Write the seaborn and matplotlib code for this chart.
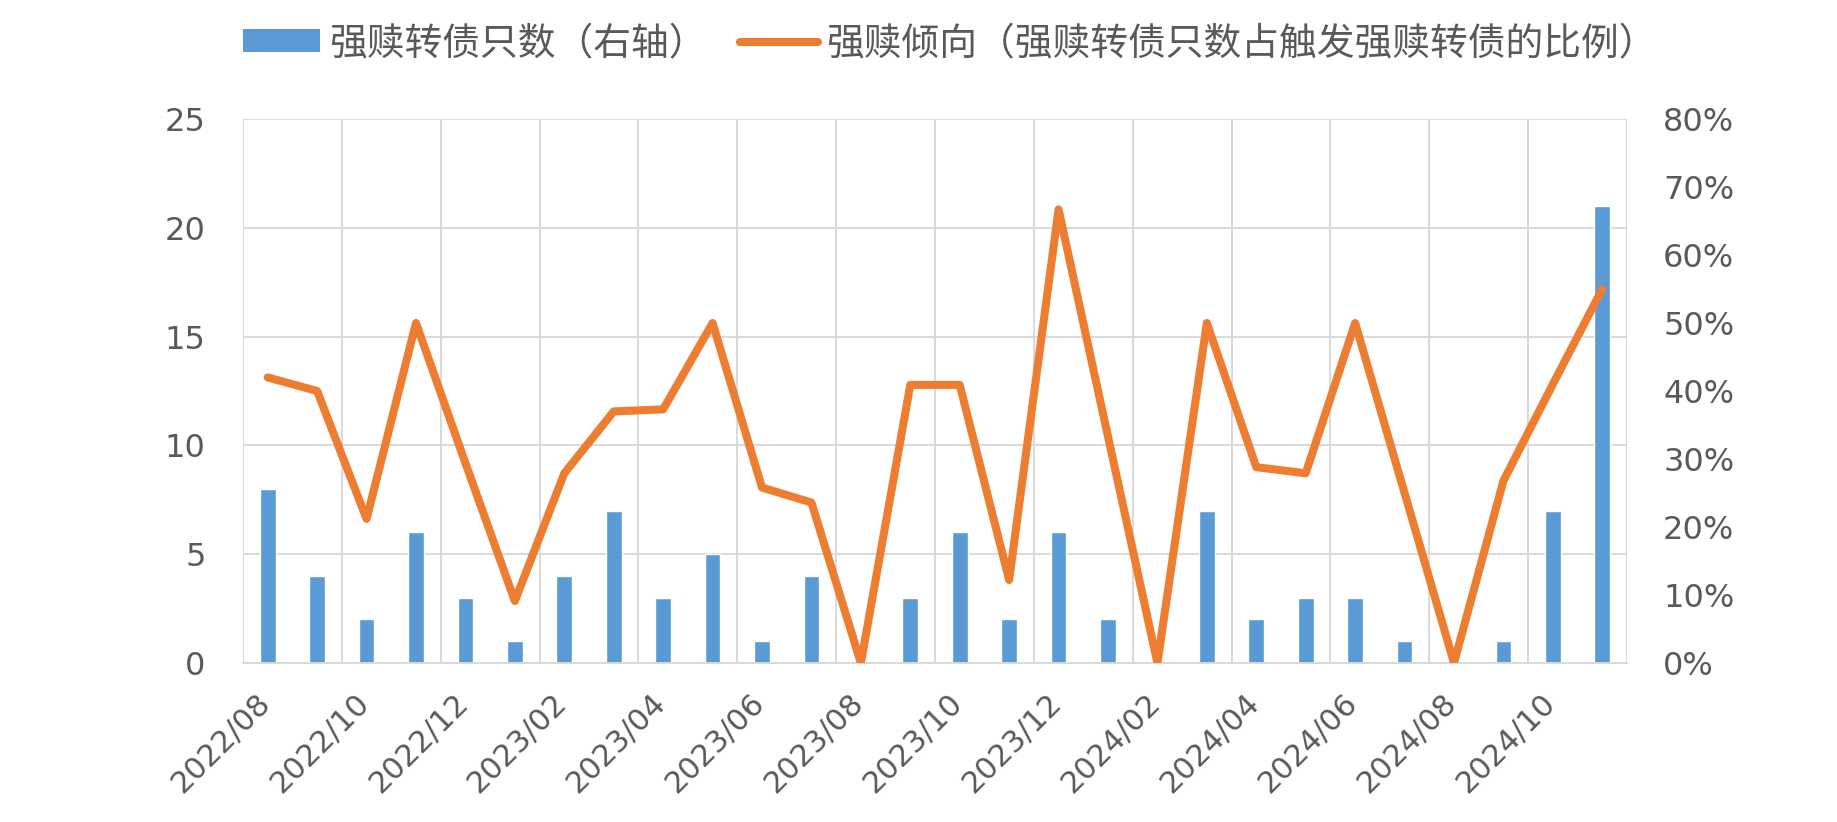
import numpy as np
import pandas as pd
import seaborn as sns
import matplotlib.pyplot as plt
from matplotlib.patches import Patch
from matplotlib.lines import Line2D
from matplotlib.ticker import PercentFormatter
from matplotlib.transforms import ScaledTranslation

# 强赎转债只数 与 强赎倾向, 2022/08 - 2024/11

months = ['2022/08', '2022/09', '2022/10', '2022/11', '2022/12',
          '2023/01', '2023/02', '2023/03', '2023/04', '2023/05', '2023/06',
          '2023/07', '2023/08', '2023/09', '2023/10', '2023/11', '2023/12',
          '2024/01', '2024/02', '2024/03', '2024/04', '2024/05', '2024/06',
          '2024/07', '2024/08', '2024/09', '2024/10', '2024/11']
counts = [8, 4, 2, 6, 3, 1, 4, 7, 3, 5, 1, 4, 0, 3, 6, 2, 6, 2, 0, 7,
          2, 3, 3, 1, 0, 1, 7, 21]
ratio = [42.0, 40.0, 21.2, 50.0, 29.4, 9.1, 27.9, 37.0, 37.3, 50.0, 25.8,
         23.6, 0.0, 40.9, 40.9, 12.2, 66.7, 33.3, 0.0, 50.0, 28.8, 27.9,
         50.0, 25.0, 0.0, 26.8, 41.0, 55.0]
tick_labels = months[::2]

bar_label = '强赎转债只数（右轴）'
line_label = '强赎倾向（强赎转债只数占触发强赎转债的比例）'

blue = '#5B9BD5'
orange = '#ED7D31'
grid_c = '#D9D9D9'
text_c = '#595959'

sns.set_style('white')
plt.rcParams['font.family'] = ['DejaVu Sans', 'Noto Sans CJK SC']

df = pd.DataFrame({'month': months, 'count': counts, 'ratio': ratio})
df['pos'] = np.arange(len(df))

fig = plt.figure(figsize=(18.37, 8.22), dpi=100)
ax = fig.add_axes([243 / 1837, 1 - 663 / 822, (1627 - 243) / 1837, (663 - 119) / 822])

sns.barplot(data=df, x='month', y='count', color=blue, saturation=1,
            width=0.32, ax=ax, zorder=2)

ax2 = ax.twinx()
sns.lineplot(data=df, x='pos', y='ratio', color=orange, linewidth=5.8,
             ax=ax2, solid_joinstyle='round', solid_capstyle='round')

ax.set_xlim(-0.5, len(months) - 0.5)
ax.set_ylim(0, 25)
ax.set_yticks(np.arange(0, 26, 5))
ax2.set_ylim(0, 80)
ax2.set_yticks(np.arange(0, 81, 10))
ax2.yaxis.set_major_formatter(PercentFormatter(decimals=0))

ax.grid(True, color=grid_c, linewidth=1.4)
ax.set_axisbelow(True)
for s in ['top', 'left', 'right']:
    ax.spines[s].set_visible(False)
    ax2.spines[s].set_visible(False)
ax2.spines['bottom'].set_visible(False)
ax.spines['bottom'].set_color(grid_c)
ax.spines['bottom'].set_linewidth(1.4)

ax.tick_params(axis='x', length=8.6, width=1.4, color=grid_c, pad=17,
               labelsize=22, labelcolor=text_c)
ax.tick_params(axis='y', length=0, pad=27, labelsize=23, labelcolor=text_c)
ax2.tick_params(axis='y', length=0, pad=26, labelsize=23, labelcolor=text_c)

ax.set_xticks(np.arange(-0.5, len(months), 2))
ax.set_xticklabels(tick_labels + [''], rotation=45, ha='right', va='center',
                   rotation_mode='anchor')
# nudge the rotated labels to the right, as in the original
shift = ScaledTranslation(23 / 100, 0, fig.dpi_scale_trans)
for lab in ax.get_xticklabels():
    lab.set_transform(lab.get_transform() + shift)

ax.set_xlabel('')
ax.set_ylabel('')
ax2.set_xlabel('')
ax2.set_ylabel('')

handles = [Patch(facecolor=blue, edgecolor='none'),
           Line2D([0], [0], color=orange, linewidth=5.8)]
fig.legend(handles, [bar_label, line_label], loc='center',
           bbox_to_anchor=(0.517, 0.947), ncol=2, frameon=False,
           prop={'family': ['Noto Sans CJK SC', 'DejaVu Sans'], 'size': 27.2},
           handlelength=2.05, handleheight=0.55, handletextpad=0.22,
           columnspacing=0.9, labelcolor=text_c)

fig.savefig('out.png', dpi=100)
